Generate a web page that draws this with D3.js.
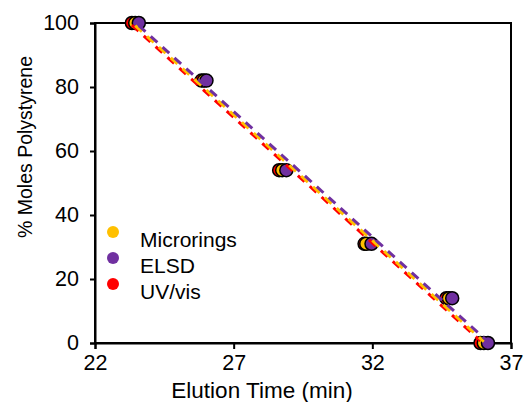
<!DOCTYPE html>
<html>
<head>
<meta charset="utf-8">
<script src="https://cdn.jsdelivr.net/npm/d3@7"></script>
<style>
  body { margin: 0; background: #fff; }
  text { font-family: "Liberation Sans", Arial, sans-serif; fill: #000; }
</style>
</head>
<body>
<div id="plot"></div>
<script>
const w = 525, h = 402,
    margin = {top: 23, right: 14, bottom: 60, left: 95}

// % moles polystyrene at each standard
const moles = [100, 82, 54, 31, 14, 0]
// elution times (min) per detector
const uvvis = [23.33, 25.84, 28.64, 31.72, 34.67, 35.90],
      microrings = [23.45, 25.93, 28.75, 31.78, 34.76, 36.02],
      elsd = [23.58, 26.02, 28.90, 31.97, 34.88, 36.17]

const series = [
  {name: "Microrings", col: "#ffc000", t: microrings},
  {name: "ELSD", col: "#7030a0", t: elsd},
  {name: "UV/vis", col: "#ff0000", t: uvvis}
]
const xTicks = [22, 27, 32, 37],
      yTicks = [0, 20, 40, 60, 80, 100]

const x = d3.scaleLinear().domain([22, 37]).range([margin.left, w - margin.right]),
      y = d3.scaleLinear().domain([0, 100]).range([h - margin.bottom + 1, margin.top])

const svg = d3.select("#plot").append("svg")
  .attr("width", w).attr("height", h)

// least squares fit of % moles on time
const fit = (ts) => {
  const mx = d3.mean(ts), my = d3.mean(moles)
  let sxy = 0, sxx = 0
  ts.forEach((t, i) => { sxy += (t - mx) * (moles[i] - my); sxx += (t - mx) ** 2 })
  const b = sxy / sxx, a = my - b * mx
  return [d3.min(ts), d3.max(ts)].map(t => [t, a + b * t])
}

// frame
svg.append("rect")
  .attr("x", x(22)).attr("y", y(100))
  .attr("width", x(37) - x(22)).attr("height", y(0) - y(100))
  .attr("fill", "none").attr("stroke", "#000").attr("stroke-width", 2)

const xAxis = svg.append("g")
  .attr("transform", `translate(0, ${y(0)})`)
  .call(d3.axisBottom(x).tickValues(xTicks).tickSize(6).tickPadding(6))
const yAxis = svg.append("g")
  .attr("transform", `translate(${x(22)}, 0)`)
  .call(d3.axisLeft(y).tickValues(yTicks).tickSize(5).tickPadding(11))

for (const ax of [xAxis, yAxis]) {
  ax.select(".domain").attr("stroke-width", 2)
  ax.selectAll(".tick line").attr("stroke-width", 2)
  ax.selectAll("text").style("font-size", "21.5px")
    .style("font-family", "'Liberation Sans', Arial, sans-serif")
}

// points, UV/vis at the back
const order = [series[2], series[0], series[1]]
order.forEach(s => {
  svg.append("g").selectAll("circle")
    .data(s.t.map((t, i) => [t, moles[i]]))
    .join("circle")
    .attr("cx", d => x(d[0]))
    .attr("cy", d => y(d[1]))
    .attr("r", 6.5)
    .attr("fill", s.col)
    .attr("stroke", "#000")
    .attr("stroke-width", 1.5)
})

// dashed fit lines
order.forEach(s => {
  svg.append("path")
    .datum(fit(s.t))
    .attr("d", d3.line().x(d => x(d[0])).y(d => y(d[1])))
    .attr("fill", "none")
    .attr("stroke", s.col)
    .attr("stroke-width", 3)
    .attr("stroke-dasharray", "9,7")
})

// legend
const leg = svg.append("g").attr("transform", "translate(113, 232)")
series.forEach((s, i) => {
  leg.append("circle").attr("cx", 0).attr("cy", i * 26).attr("r", 6).attr("fill", s.col)
  leg.append("text").attr("x", 27).attr("y", i * 26 + 15)
    .style("font-size", "21px").text(s.name)
})

svg.append("text")
  .attr("x", 262).attr("y", 398)
  .attr("text-anchor", "middle").style("font-size", "22.5px")
  .text("Elution Time (min)")

svg.append("text")
  .attr("transform", "translate(32, 147) rotate(-90)")
  .attr("text-anchor", "middle").style("font-size", "19.5px")
  .text("% Moles Polystyrene")
</script>
</body>
</html>
